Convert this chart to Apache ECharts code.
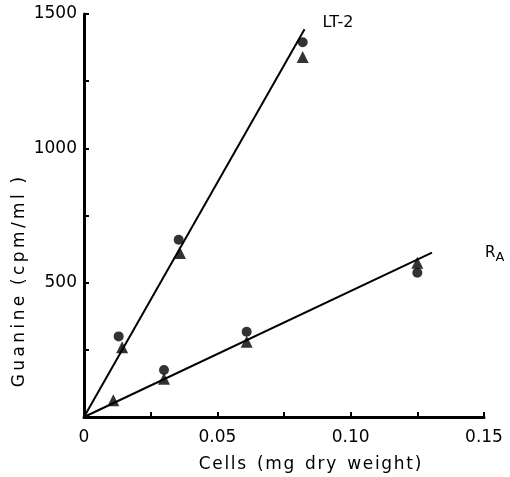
<!DOCTYPE html>
<html>
<head>
<meta charset="utf-8">
<script src="https://cdn.jsdelivr.net/npm/echarts@6/dist/echarts.min.js"></script>
<style>
  html, body { margin: 0; padding: 0; background: #fff; }
  #chart { width: 510px; height: 477px; }
</style>
</head>
<body>
<div id="chart"></div>
<script>
// LT-2 measurements
const lt2CircleX = [0.013, 0.0355, 0.082];
const lt2CircleY = [300, 660, 1395];
const lt2TriX = [0.0143, 0.036, 0.082];
const lt2TriY = [260, 610, 1340];
// RA measurements
const raCircleX = [0.030, 0.061, 0.125];
const raCircleY = [175, 317, 537];
const raTriX = [0.011, 0.030, 0.061, 0.125];
const raTriY = [62, 142, 280, 574];
// fitted lines
const lt2LineX = [0, 0.0827];
const lt2LineY = [0, 1443];
const raLineX = [0, 0.1305];
const raLineY = [0, 612];

const xTickLabels = ["0", "0.05", "0.10", "0.15"];
const yTickLabels = ["500", "1000", "1500"];

const font = "DejaVu Sans";

function pairs(xs, ys) {
  return xs.map((x, i) => [x, ys[i]]);
}

// the scanned figure uses wide letter spacing for the axis titles
function spaced(s, gap) {
  let out = "";
  for (let i = 0; i < s.length; i++) {
    out += s[i] === " " ? "  " : s[i];
    if (i < s.length - 1 && s[i] !== " " && s[i + 1] !== " ") out += gap;
  }
  return out;
}

const chart = echarts.init(document.getElementById("chart"));

const option = {
  animation: false,
  backgroundColor: "#fff",
  grid: { left: 84, right: 26, top: 14, bottom: 60 },
  xAxis: {
    type: "value",
    min: 0,
    max: 0.15,
    interval: 0.025,
    axisLine: { lineStyle: { color: "#000", width: 3 } },
    axisTick: { inside: true, length: 5, lineStyle: { color: "#000", width: 2 } },
    splitLine: { show: false },
    axisLabel: {
      color: "#000",
      fontFamily: font,
      fontSize: 17,
      margin: 12,
      formatter: (v) => {
        const k = Math.round(v / 0.05 * 1000) / 1000;
        return Number.isInteger(k) ? xTickLabels[k] : "";
      },
    },
  },
  yAxis: {
    type: "value",
    min: 0,
    max: 1500,
    interval: 250,
    axisLine: { lineStyle: { color: "#000", width: 3 } },
    axisTick: { inside: true, length: 5, lineStyle: { color: "#000", width: 2 } },
    splitLine: { show: false },
    axisLabel: {
      color: "#000",
      fontFamily: font,
      fontSize: 17,
      margin: 7,
      formatter: (v) => {
        if (v === 0 || v % 500 !== 0) return "";
        return yTickLabels[v / 500 - 1];
      },
    },
  },
  graphic: [
    {
      type: "text",
      x: 20,
      y: 282,
      rotation: Math.PI / 2,
      style: {
        text: spaced("Guanine (cpm/ml )", "\u2009"),
        fill: "#000",
        font: "17px '" + font + "'",
        textAlign: "center",
        textVerticalAlign: "middle",
      },
    },
    {
      type: "text",
      x: 310,
      y: 465,
      style: {
        text: spaced("Cells (mg dry weight)", "\u200A"),
        fill: "#000",
        font: "17px '" + font + "'",
        textAlign: "center",
        textVerticalAlign: "middle",
      },
    },
  ],
  series: [
    {
      type: "line",
      data: pairs(lt2LineX, lt2LineY),
      symbol: "none",
      lineStyle: { color: "#000", width: 2 },
      endLabel: {
        show: true,
        formatter: "LT-2",
        color: "#000",
        fontFamily: font,
        fontSize: 16,
        offset: [10, -6],
      },
    },
    {
      type: "line",
      data: pairs(raLineX, raLineY),
      symbol: "none",
      lineStyle: { color: "#000", width: 2 },
      endLabel: {
        show: true,
        formatter: "R{s|A}",
        color: "#000",
        fontFamily: font,
        fontSize: 15,
        offset: [45, 1],
        rich: { s: { fontSize: 13, fontFamily: font, color: "#000", padding: [9, 0, 0, 0] } },
      },
    },
    {
      type: "scatter",
      data: pairs(lt2CircleX, lt2CircleY),
      symbol: "circle",
      symbolSize: 10,
      itemStyle: { color: "#000" },
    },
    {
      type: "scatter",
      data: pairs(lt2TriX, lt2TriY),
      symbol: "triangle",
      symbolSize: 12,
      itemStyle: { color: "#000" },
    },
    {
      type: "scatter",
      data: pairs(raCircleX, raCircleY),
      symbol: "circle",
      symbolSize: 10,
      itemStyle: { color: "#000" },
    },
    {
      type: "scatter",
      data: pairs(raTriX, raTriY),
      symbol: "triangle",
      symbolSize: 12,
      itemStyle: { color: "#000" },
    },
  ],
};

chart.setOption(option);
</script>
</body>
</html>
